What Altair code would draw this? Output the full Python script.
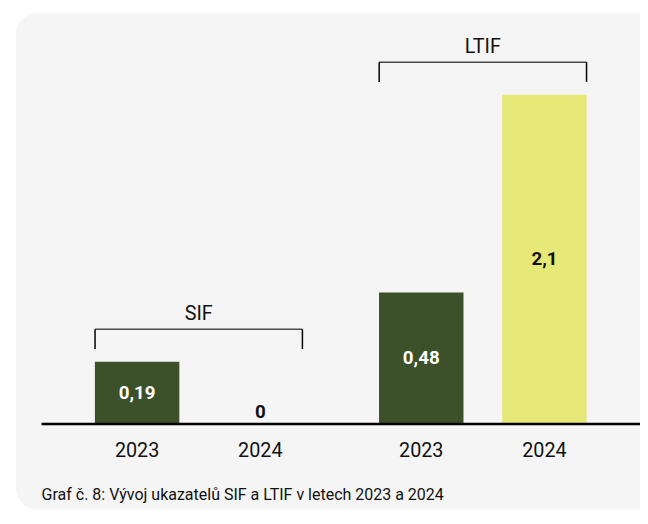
import altair as alt
import pandas as pd

# ---- data ----
groups = ["SIF", "SIF", "LTIF", "LTIF"]
years = ["2023", "2024", "2023", "2024"]
values = [0.19, 0, 0.48, 2.1]
group_order = ["SIF", "LTIF"]
year_order = ["2023", "2024"]
caption = "Graf č. 8: Vývoj ukazatelů SIF a LTIF v letech 2023 a 2024"

df = pd.DataFrame({
    "group": groups,
    "year": years,
    "value": values,
    "label": [str(v).replace(".", ",") for v in values],
})
one = pd.DataFrame({"t": [caption]})

FONT = "Roboto"
C = 0.55  # symlog constant
PL, PT = 88, 0
W, H = 498, 418

xs = alt.Scale(domain=group_order, paddingInner=0.2692, paddingOuter=0, round=False)
ys = alt.Scale(type="symlog", constant=C, domain=[0, 3.4])
X = alt.X("group:N", scale=xs, axis=None)
XO = alt.XOffset("year:N", scale=alt.Scale(domain=year_order, paddingInner=0.3145,
                                           paddingOuter=0, round=False))
Y = alt.Y("value:Q", scale=ys, axis=None)

panel = alt.Chart(one).mark_rect(cornerRadius=22, color="#f5f5f5").encode(
    x=alt.value(8 - PL), x2=alt.value(800), y=alt.value(2 - PT), y2=alt.value(505 - PT)
)

bars = alt.Chart(df).mark_bar().encode(
    x=X, xOffset=XO, y=Y,
    color=alt.Color("year:N",
                    scale=alt.Scale(domain=year_order, range=["#3c5029", "#e6e878"]),
                    legend=None),
)

baseline = alt.Chart(one).transform_calculate(zero="0").mark_rule(
    color="black", strokeWidth=2.5
).encode(
    y=alt.Y("zero:Q", scale=ys, axis=None), x=alt.value(34 - PL), x2=alt.value(800)
)

agg = alt.Chart(df).transform_aggregate(maxv="max(value)", groupby=["group"])
YM = alt.Y("maxv:Q", scale=ys, axis=None)

br_h = agg.mark_tick(color="black", thickness=1.5, size=210, orient="horizontal",
                     yOffset=-33).encode(x=X, y=YM)
br_l = agg.mark_rule(color="black", strokeWidth=1.5, xOffset=-105,
                     yOffset=-33, y2Offset=-13).encode(
    x=X, y=YM, y2=alt.Y2("maxv:Q"),
)
br_r = agg.mark_rule(color="black", strokeWidth=1.5, xOffset=105,
                     yOffset=-33, y2Offset=-13).encode(
    x=X, y=YM, y2=alt.Y2("maxv:Q"),
)
br_t = agg.mark_text(font=FONT, fontSize=20, dy=-48, color="#111111",
                     baseline="middle").encode(
    x=X, y=YM, text="group:N"
)

vals = alt.Chart(df).transform_filter("datum.value > 0").transform_calculate(
    mid=f"{C}*(sqrt(1+datum.value/{C})-1)"
).mark_text(font=FONT, fontSize=19, fontWeight="bold", baseline="middle").encode(
    x=X, xOffset=XO,
    y=alt.Y("mid:Q", scale=ys, axis=None),
    text="label:N",
    color=alt.condition("datum.year == '2023'", alt.value("white"), alt.value("#111111")),
)
zero = alt.Chart(df).transform_filter("datum.value == 0").mark_text(
    font=FONT, fontSize=19, fontWeight="bold", baseline="alphabetic", dy=-6,
    color="#111111",
).encode(x=X, xOffset=XO, y=Y, text="label:N")

yrs = alt.Chart(df).transform_calculate(zero="0").mark_text(
    font=FONT, fontSize=20, baseline="middle", dy=27, color="#111111"
).encode(
    x=X, xOffset=XO, y=alt.Y("zero:Q", scale=ys, axis=None), text="year:N"
)

cap = alt.Chart(one).mark_text(font=FONT, fontSize=16.2,
                               align="left", baseline="middle",
                               color="#111111").encode(
    x=alt.value(34 - PL), y=alt.value(490 - PT), text="t:N"
)

chart = alt.layer(panel, bars, baseline, br_h, br_l, br_r, br_t, vals, zero, yrs, cap).properties(
    width=W, height=H,
    autosize=alt.AutoSizeParams(type="none"),
    padding={"left": PL, "top": PT, "right": 640 - PL - W, "bottom": 505 - PT - H},
    background="white",
).configure_view(stroke=None)

chart.save("out.html", embed_options={"renderer": "svg", "actions": False})
